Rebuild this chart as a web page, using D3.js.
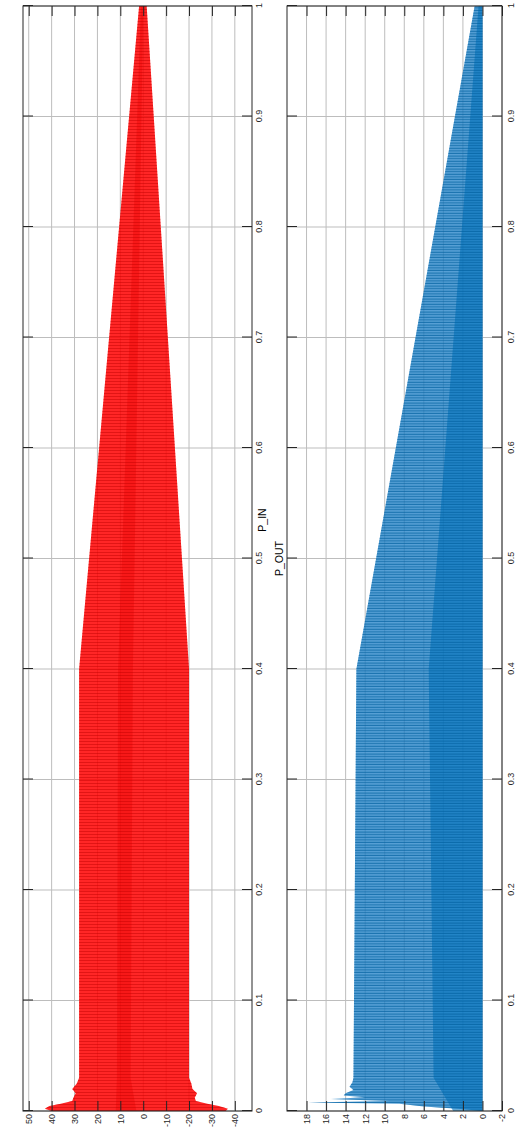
<!DOCTYPE html>
<html>
<head>
<meta charset="utf-8">
<script src="https://cdn.jsdelivr.net/npm/d3@7"></script>
<style>
  body { margin: 0; background: #fff; }
  text { font-family: "Liberation Sans", Arial, sans-serif; }
</style>
</head>
<body>
<script>
// ---- data (envelopes of the dense signals) ----
// P_IN : time, upper envelope, lower envelope
var inT  = [0, 0.002, 0.0045, 0.0065, 0.009, 0.012, 0.016, 0.02, 0.025, 0.03, 0.4, 1.0];
var inHi = [40, 43, 41, 36, 31, 30.5, 29.5, 31, 29, 28, 28, 1.8];
var inLo = [-36, -37, -33, -28, -23, -22.5, -23.5, -21.5, -21, -20, -20, -1.5];
// dense middle band of P_IN
var inCoreT  = [0, 0.03, 0.4, 1.0];
var inCoreHi = [12, 11.5, 11, 1];
var inCoreLo = [3, 5.5, 4.5, 0];

// P_OUT : time, upper envelope, lower envelope
var outT  = [0, 0.002, 0.004, 0.0065, 0.0077, 0.009, 0.0109, 0.0125, 0.014, 0.016, 0.019, 0.022, 0.026, 0.03, 0.4, 1.0];
var outHi = [0, 2.5, 6, 8.5, 17.8, 9.5, 15.5, 12, 14.2, 14, 13.2, 13.6, 13.3, 13.2, 12.9, 0.8];
var outLo = [0, 0, 0, 0, 0, 0, 0, 0, 0, 0, 0, 0, 0, 0, 0, 0];
// dense band of P_OUT
var outCoreT  = [0, 0.03, 0.4, 1.0];
var outCoreHi = [3, 5, 5.5, 0.4];
var outCoreLo = [0, 0, 0, 0];

var tTicks   = [0, 0.1, 0.2, 0.3, 0.4, 0.5, 0.6, 0.7, 0.8, 0.9, 1];
var inTicks  = [-40, -30, -20, -10, 0, 10, 20, 30, 40, 50];
var outTicks = [-2, 0, 2, 4, 6, 8, 10, 12, 14, 16, 18];

// figure is drawn in its own orientation, then turned a quarter turn
var W = 1129, H = 515;
var gridColor = '#bdbdbd';
var axisColor = '#262626';

var svg = d3.select('body').append('svg')
  .attr('width', H)
  .attr('height', W);

var defs = svg.append('defs');
function stripes(id, color, period, w, op) {
  var p = defs.append('pattern')
    .attr('id', id)
    .attr('patternUnits', 'userSpaceOnUse')
    .attr('width', period)
    .attr('height', 20);
  p.append('rect').attr('x', 0).attr('y', 0)
    .attr('width', w).attr('height', 20)
    .attr('fill', color).attr('fill-opacity', op);
}
stripes('redStripes', '#c00000', 3, 1, 0.45);
stripes('blueStripes', '#005f9e', 2.6, 1.1, 0.7);

var fig = svg.append('g')
  .attr('transform', 'translate(0,' + W + ') rotate(-90)');

var t = d3.scaleLinear().domain([0, 1]).range([18, 1123]);

function panel(opt) {
  var g = fig.append('g');
  var y = d3.scaleLinear().domain(opt.domain).range([opt.bottom, opt.top]);

  // grid
  g.selectAll('.tgrid').data(tTicks).enter().append('line')
    .attr('x1', function(d) { return t(d); })
    .attr('x2', function(d) { return t(d); })
    .attr('y1', opt.top).attr('y2', opt.bottom)
    .attr('stroke', gridColor);
  g.selectAll('.vgrid').data(opt.ticks).enter().append('line')
    .attr('x1', t(0)).attr('x2', t(1))
    .attr('y1', function(d) { return y(d); })
    .attr('y2', function(d) { return y(d); })
    .attr('stroke', gridColor);

  var area = d3.area()
    .x(function(d) { return t(d[0]); })
    .y0(function(d) { return y(d[2]); })
    .y1(function(d) { return y(d[1]); });

  var env = d3.zip(opt.envT, opt.envHi, opt.envLo);
  var core = d3.zip(opt.coreT, opt.coreHi, opt.coreLo);

  g.append('path').datum(env).attr('d', area)
    .attr('fill', opt.color).attr('fill-opacity', opt.baseOp);
  g.append('path').datum(core).attr('d', area)
    .attr('fill', opt.coreColor).attr('fill-opacity', opt.coreOp);
  g.append('path').datum(env).attr('d', area)
    .attr('fill', 'url(#' + opt.pattern + ')');

  // axes with inward ticks on all four sides
  function style(sel) {
    sel.select('.domain').remove();
    sel.attr('font-size', 9)
      .attr('font-family', '"Liberation Sans", Arial, sans-serif')
      .style('color', axisColor);
  }
  g.append('g').attr('transform', 'translate(0,' + opt.bottom + ')')
    .call(d3.axisBottom(t).tickValues(tTicks).tickFormat(String)
      .tickSize(-10).tickPadding(opt.tPad))
    .call(style);
  g.append('g').attr('transform', 'translate(0,' + opt.top + ')')
    .call(d3.axisTop(t).tickValues(tTicks).tickFormat('').tickSize(-10))
    .call(style);
  g.append('g').attr('transform', 'translate(' + t(0) + ',0)')
    .call(d3.axisLeft(y).tickValues(opt.ticks).tickFormat(String)
      .tickSize(-10).tickPadding(3))
    .call(style);
  g.append('g').attr('transform', 'translate(' + t(1) + ',0)')
    .call(d3.axisRight(y).tickValues(opt.ticks).tickFormat('').tickSize(-10))
    .call(style);

  g.append('rect')
    .attr('x', t(0)).attr('y', opt.top)
    .attr('width', t(1) - t(0)).attr('height', opt.bottom - opt.top)
    .attr('fill', 'none').attr('stroke', axisColor);
}

panel({
  top: 23, bottom: 252, domain: [-47.5, 52.5], ticks: inTicks,
  envT: inT, envHi: inHi, envLo: inLo,
  coreT: inCoreT, coreHi: inCoreHi, coreLo: inCoreLo,
  color: '#ff0000', baseOp: 0.85, coreColor: '#e80000', coreOp: 0.35,
  pattern: 'redStripes', tPad: 4
});

panel({
  top: 287, bottom: 502, domain: [-2, 20], ticks: outTicks,
  envT: outT, envHi: outHi, envLo: outLo,
  coreT: outCoreT, coreHi: outCoreHi, coreLo: outCoreLo,
  color: '#1f80c8', baseOp: 0.75, coreColor: '#0072bd', coreOp: 0.6,
  pattern: 'blueStripes', tPad: 6
});

// titles
fig.append('text')
  .attr('x', 1129 - 520).attr('y', 266)
  .attr('text-anchor', 'middle')
  .attr('font-size', 10.5)
  .attr('fill', '#000')
  .text('P_IN');

fig.append('text')
  .attr('x', (t(0) + t(1)) / 2).attr('y', 283)
  .attr('text-anchor', 'middle')
  .attr('font-size', 10.5)
  .attr('fill', '#000')
  .text('P_OUT');
</script>
</body>
</html>
